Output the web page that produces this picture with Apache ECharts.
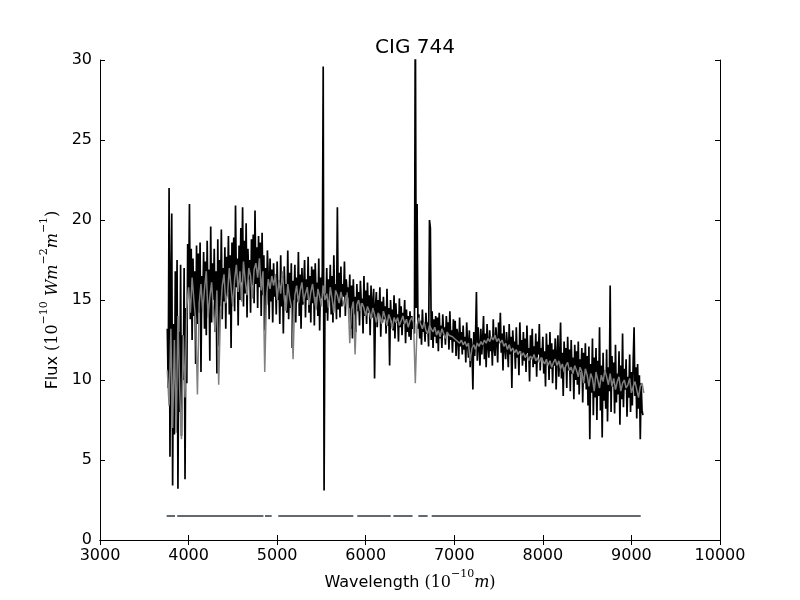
<!DOCTYPE html>
<html lang="en">

<head>
    <meta charset="UTF-8">
    <title>CIG 744</title>
    <style>
        html,
        body {
            margin: 0;
            background: #fff;
        }
        
        .mychart {
            width: 800px;
            height: 600px;
        }
    </style>
</head>

<body>
    <div class="mychart"></div>
</body>
<script src="https://cdn.jsdelivr.net/npm/echarts@6/dist/echarts.min.js"></script>
<script>
    // observed spectrum, one value every 10 A from 3760 A
    const obsStart = 3760
    const obsStep = 10
    const obsFlux = [
        13.2, 9.5, 22.0, 5.2,
        16.4, 20.4, 3.4, 13.5, 6.6, 16.8, 7.8, 17.5, 3.2, 13.0,
        8.0, 17.2, 6.5, 12.8, 10.0, 17.0, 3.8, 14.5, 9.8, 18.5,
        15.2, 21.0, 13.8, 18.2, 12.5, 17.6, 14.0, 16.8, 11.0, 18.4,
        13.5, 17.9, 14.2, 18.6, 10.5, 16.5, 14.8, 18.0, 13.2, 17.4,
        12.8, 18.7, 14.5, 16.9, 11.2, 19.6, 13.6, 17.3, 15.0, 18.2,
        13.0, 16.8, 10.4, 18.8, 12.1, 17.5, 14.6, 19.4, 13.8, 17.0,
        14.9, 18.3, 13.2, 17.7, 15.5, 19.0, 14.1, 17.8, 12.0, 18.6,
        15.2, 18.9, 14.3, 20.9, 15.8, 17.6, 13.4, 18.4, 15.0, 19.5,
        16.1, 20.8, 14.6, 18.7, 15.4, 19.8, 13.9, 18.2, 16.3, 17.5,
        14.2, 18.8, 15.9, 19.1, 14.8, 20.6, 16.0, 18.3, 14.5, 19.0,
        15.8, 18.6, 14.0, 19.2, 15.3, 17.8, 13.1, 17.0, 14.7, 18.1,
        16.4, 13.8, 17.6, 14.9, 16.9, 13.6, 17.3, 15.2, 16.6, 14.1,
        17.4, 15.0, 16.2, 13.5, 17.8, 14.6, 16.5, 12.9, 17.1, 15.3,
        16.0, 14.2, 18.1, 13.8, 16.7, 14.5, 17.3, 12.0, 16.2, 15.0,
        17.2, 13.6, 16.4, 14.9, 18.0, 14.0, 16.6, 13.2, 17.0, 14.7,
        15.9, 17.5, 13.9, 16.3, 15.0, 17.7, 14.2, 16.5, 13.6, 17.1,
        14.8, 16.9, 13.4, 17.3, 15.2, 16.1, 14.0, 17.6, 13.1, 16.4,
        15.1, 16.8, 29.6, 3.1, 15.4, 14.2, 17.0, 13.7, 16.3, 15.0,
        17.2, 14.1, 16.5, 13.6, 17.8, 14.9, 16.0, 13.8, 20.8, 14.4,
        16.7, 13.9, 17.1, 14.6, 16.0, 15.2, 17.4, 14.0, 16.3, 15.5,
        15.8, 14.5, 16.6, 13.2, 15.9, 12.6, 16.3, 14.1, 15.2, 13.0,
        16.0, 14.3, 15.5, 13.4, 16.2, 14.8, 15.1, 12.9, 16.5, 14.0,
        15.6, 13.5, 16.1, 14.2, 15.3, 12.8, 15.9, 13.9, 14.8, 15.7,
        10.1, 14.6, 15.5, 13.3, 15.0, 14.1, 15.8, 12.7, 14.9, 13.6,
        15.2, 13.8, 14.6, 12.9, 15.7, 13.4, 14.5, 10.9, 15.0, 13.7,
        14.4, 13.1, 15.3, 12.6, 14.8, 13.6, 14.1, 12.4, 15.1, 13.3,
        14.6, 12.8, 14.2, 13.5, 15.0, 12.3, 14.4, 13.0, 14.0, 12.7,
        14.3, 12.5, 14.0, 13.2, 13.6, 12.9, 34.0, 14.5, 21.0, 13.2,
        14.1, 12.6, 13.7, 12.2, 14.4, 13.0, 13.5, 12.4, 14.2, 12.9,
        13.6, 12.1, 20.0, 19.5, 12.5, 14.3, 12.0, 13.8, 12.7, 14.0,
        12.3, 13.9, 11.8, 14.2, 12.6, 13.4, 12.0, 14.1, 12.8, 13.3,
        12.2, 14.0, 12.9, 13.6, 11.9, 14.3, 12.5, 13.1, 11.7, 13.8,
        12.4, 13.7, 11.5, 13.2, 12.8, 11.3, 13.9, 12.1, 13.0, 11.6,
        13.4, 11.9, 12.7, 11.1, 13.6, 12.3, 11.4, 13.1, 10.8, 12.6,
        12.0, 9.4, 13.0, 11.5, 12.8, 15.5, 11.2, 13.3, 12.1, 10.9,
        13.2, 11.6, 12.5, 14.0, 11.3, 12.9, 10.8, 13.5, 12.2, 11.4,
        13.1, 11.8, 12.6, 10.9, 13.8, 12.0, 11.5, 13.3, 12.4, 11.1,
        13.6, 12.3, 14.2, 11.7, 12.9, 10.6, 13.4, 12.0, 11.3, 13.0,
        12.1, 10.8, 13.5, 11.6, 12.7, 9.5, 13.1, 11.9, 12.4, 10.7,
        13.3, 11.4, 12.2, 10.3, 13.6, 11.8, 12.5, 10.9, 13.0, 11.2,
        12.6, 10.5, 13.4, 11.7, 12.0, 9.9, 12.8, 11.3, 13.2, 10.8,
        12.1, 11.0, 12.9, 10.2, 12.4, 11.6, 13.5, 10.6, 12.0, 11.4,
        12.7, 10.4, 11.8, 9.6, 12.9, 11.1, 12.2, 10.0, 13.0, 10.7,
        12.3, 9.8, 11.9, 10.9, 12.6, 9.4, 11.6, 12.8, 10.2, 11.5,
        13.6, 10.1, 11.7, 9.0, 12.4, 10.8, 12.0, 9.5, 12.7, 10.6,
        11.9, 9.3, 12.5, 10.4, 11.4, 8.8, 12.2, 10.0, 11.8, 9.7,
        12.4, 9.1, 11.3, 10.5, 12.0, 8.6, 11.7, 9.8, 12.3, 9.4,
        11.5, 8.4, 12.1, 6.3, 11.0, 9.2, 12.6, 7.8, 11.4, 8.9,
        12.0, 7.5, 11.2, 9.0, 13.3, 8.1, 10.9, 6.4, 11.7, 8.7,
        10.6, 8.2, 11.9, 7.4, 10.8, 9.3, 15.9, 8.0, 11.5, 9.6,
        11.1, 7.9, 12.2, 8.6, 10.4, 9.1, 11.8, 7.2, 10.9, 8.8,
        12.9, 8.3, 10.7, 9.4, 11.3, 7.7, 10.2, 8.9, 11.6, 8.0,
        10.5, 8.4, 11.2, 13.3, 9.0, 10.8, 7.6, 11.0, 8.2, 10.3,
        6.3, 9.8, 8.1, 7.8
    ]

    // fitted model, one value every 20 A from 3760 A
    const fitStart = 3760
    const fitStep = 20
    const fitFlux = [
        10.6, 8.4, 13.2, 7.0, 12.5, 6.7, 14.0, 9.3, 6.3, 12.8,
        8.9, 14.6, 15.8, 14.2, 16.4, 15.0, 13.8, 9.1, 14.8, 16.0,
        14.3, 15.7, 16.8, 13.9, 15.2, 16.1, 14.4, 13.0, 15.6, 9.7,
        14.1, 15.9, 16.6, 14.8, 15.4, 17.0, 15.8, 14.6, 16.3, 17.2,
        15.5, 16.8, 14.9, 17.4, 16.2, 15.3, 17.0, 16.5, 15.1, 16.9,
        17.3, 16.4, 17.6, 15.6, 16.8, 10.5, 15.2, 16.3, 15.7, 16.5,
        15.9, 16.6, 15.0, 16.2, 15.4, 16.8, 15.1, 14.3, 16.0, 15.2,
        14.6, 11.3, 15.3, 15.9, 14.8, 15.6, 16.1, 14.9, 15.4, 15.8,
        14.7, 15.5, 16.0, 15.1, 14.4, 15.7, 15.2, 14.6, 15.9, 15.0,
        15.4, 14.5, 15.8, 15.1, 14.2, 15.6, 15.3, 14.8, 15.5, 15.0,
        14.6, 15.3, 15.1, 12.3, 14.4, 14.9, 11.6, 14.7, 15.0, 14.3,
        14.8, 14.5, 14.0, 14.6, 14.3, 13.8, 14.5, 14.1, 13.6, 14.2,
        14.0, 13.5, 14.3, 13.9, 13.4, 14.1, 13.8, 13.2, 13.9, 13.6,
        13.9, 13.4, 13.7, 14.0, 13.5, 13.8, 13.3, 13.7, 13.9, 13.6,
        9.8, 13.4, 13.9, 13.5, 13.2, 13.6, 13.1, 12.9, 13.4, 13.2,
        13.0, 13.3, 12.8, 13.1, 12.7, 13.2, 12.9, 12.6, 13.0, 12.8,
        12.9, 12.7, 12.8, 12.5, 12.6, 12.3, 12.5, 12.2, 12.4, 12.1,
        12.3, 11.2, 12.0, 12.2, 11.9, 12.3, 12.1, 12.4, 12.2, 12.5,
        12.3, 12.6, 12.4, 12.7, 12.5, 12.8, 12.4, 12.6, 12.3, 12.5,
        12.1, 12.3, 11.9, 12.2, 11.8, 12.0, 11.7, 11.9, 11.6, 11.8,
        11.5, 11.7, 11.4, 11.6, 11.2, 11.5, 11.3, 11.6, 11.2, 11.4,
        11.1, 11.4, 11.2, 11.0, 11.3, 10.9, 11.2, 10.8, 11.1, 11.3,
        10.9, 11.2, 10.7, 11.0, 10.5, 10.9, 11.1, 10.6, 10.8, 10.4,
        10.9, 10.6, 10.2, 10.8, 10.5, 9.8, 10.7, 10.3, 9.6, 10.4,
        10.1, 9.3, 10.5, 10.0, 9.5, 10.3, 9.9, 10.6, 10.2, 9.7,
        10.4, 9.6, 10.1, 9.4, 9.9, 10.2, 9.3, 9.8, 10.0, 9.5,
        9.7, 10.1, 9.2, 9.6, 9.9, 9.4, 8.9, 9.6, 9.8, 9.2
    ]

    // good-pixel mask, drawn as a flat line at one level
    const maskLevel = 1.5
    const maskSegments = [
        [3753, 3847],
        [3872, 4845],
        [4863, 4938],
        [5013, 5860],
        [5905, 6282],
        [6312, 6529],
        [6594, 6699],
        [6745, 9105]
    ]

    const xTicks = [3000, 10000, 1000]
    const yTicks = [0, 30, 5]

    const obsData = obsFlux.map((f, i) => [obsStart + i * obsStep, f])
    const fitData = fitFlux.map((f, i) => [fitStart + i * fitStep, f])
    const maskData = []
    maskSegments.forEach(s => {
        maskData.push([s[0], maskLevel], [s[1], maskLevel], [s[1], null])
    })

    const mychartDom = document.querySelector('.mychart')
    const myChart = echarts.init(mychartDom)

    const font = 'DejaVu Sans'
    const mathRich = {
        n: {
            fontFamily: font,
            fontSize: 16,
            color: '#000',
            lineHeight: 22,
            verticalAlign: 'bottom'
        },
        p: {
            fontFamily: 'DejaVu Serif',
            fontSize: 16,
            color: '#000',
            lineHeight: 22,
            verticalAlign: 'bottom'
        },
        i: {
            fontFamily: 'DejaVu Serif',
            fontStyle: 'italic',
            fontSize: 16,
            color: '#000',
            lineHeight: 22,
            verticalAlign: 'bottom'
        },
        s: {
            fontFamily: 'DejaVu Serif',
            fontSize: 11,
            color: '#000',
            lineHeight: 22,
            verticalAlign: 'top'
        }
    }

    const baseAxis = {
        type: 'value',
        splitLine: {
            show: false
        },
        axisLine: {
            show: true,
            lineStyle: {
                color: '#000',
                width: 1
            }
        },
        axisTick: {
            show: true,
            inside: true,
            length: 5,
            lineStyle: {
                color: '#000'
            }
        }
    }

    const plainLabel = {
        margin: 8,
        fontFamily: font,
        fontSize: 16,
        color: '#000',
        formatter: v => String(v)
    }

    const config = {
        animation: false,
        backgroundColor: '#fff',
        title: {
            text: 'CIG 744',
            left: 410,
            textAlign: 'center',
            top: 33,
            textStyle: {
                fontFamily: font,
                fontSize: 20,
                fontWeight: 'normal',
                color: '#000'
            }
        },
        grid: {
            left: 100,
            right: 80,
            top: 60,
            bottom: 60,
            containLabel: false
        },
        xAxis: [Object.assign({}, baseAxis, {
            position: 'bottom',
            min: xTicks[0],
            max: xTicks[1],
            interval: xTicks[2],
            name: '{n|Wavelength }{p|(10}{s|−10}{i|m}{p|)}',
            nameLocation: 'middle',
            nameGap: 25,
            nameTextStyle: {
                rich: mathRich
            },
            axisLabel: plainLabel
        }), Object.assign({}, baseAxis, {
            position: 'top',
            min: xTicks[0],
            max: xTicks[1],
            interval: xTicks[2],
            axisLabel: {
                show: false
            }
        })],
        yAxis: [Object.assign({}, baseAxis, {
            position: 'left',
            min: yTicks[0],
            max: yTicks[1],
            interval: yTicks[2],
            name: '{n|Flux }{p|(10}{s|−10}{i| Wm}{s|−2}{i|m}{s|−1}{p|)}',
            nameLocation: 'middle',
            nameGap: 34,
            nameTextStyle: {
                rich: mathRich
            },
            axisLabel: plainLabel
        }), Object.assign({}, baseAxis, {
            position: 'right',
            min: yTicks[0],
            max: yTicks[1],
            interval: yTicks[2],
            axisLabel: {
                show: false
            }
        })],
        series: [{
            type: 'line',
            name: 'observed',
            data: obsData,
            showSymbol: false,
            symbol: 'none',
            clip: true,
            sampling: null,
            lineStyle: {
                color: '#000',
                width: 1.7
            },
            z: 2
        }, {
            type: 'line',
            name: 'model',
            data: fitData,
            showSymbol: false,
            symbol: 'none',
            clip: true,
            lineStyle: {
                color: '#808080',
                width: 1.5
            },
            z: 3
        }, {
            type: 'line',
            name: 'mask',
            data: maskData,
            showSymbol: false,
            symbol: 'none',
            connectNulls: false,
            lineStyle: {
                color: '#5f6b70',
                width: 2
            },
            z: 3
        }]
    }

    myChart.setOption(config)
</script>

</html>
